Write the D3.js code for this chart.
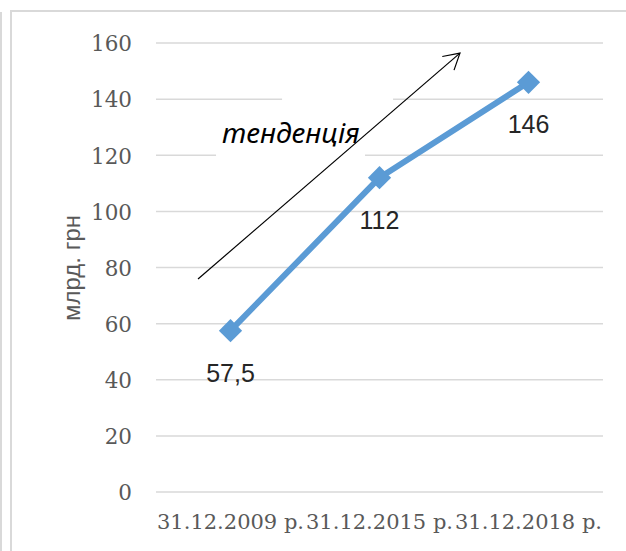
<!DOCTYPE html>
<html>
<head>
<meta charset="utf-8">
<script src="https://cdn.jsdelivr.net/npm/d3@7"></script>
<style>
  html, body { margin: 0; padding: 0; background: #fff; }
  svg { display: block; }
</style>
</head>
<body>
<svg id="chart" width="626" height="551"></svg>
<script>
// chart data
const categories = ["31.12.2009 р.", "31.12.2015 р.", "31.12.2018 р."];
const values = [57.5, 112, 146];
const valueLabels = ["57,5", "112", "146"];
const yTicks = [0, 20, 40, 60, 80, 100, 120, 140, 160];
const yTitle = "млрд. грн";
const trendText = "тенденція";

const width = 626;
const height = 551;
const svg = d3.select("#chart");

const plot = { left: 156, right: 603, top: 43, bottom: 492 };

const x = d3.scaleBand().domain(categories).range([plot.left, plot.right]);
const y = d3.scaleLinear().domain([0, 160]).range([plot.bottom, plot.top]);
// continuous scale across the categories, used for the annotation shapes
const xc = d3.scaleLinear().domain([0, categories.length]).range([plot.left, plot.right]);

// outer frames
svg.append("line")
    .attr("x1", 1).attr("x2", 1).attr("y1", 12).attr("y2", height)
    .attr("stroke", "#d9d9d9").attr("stroke-width", 2);
svg.append("rect")
    .attr("x", 11).attr("y", 11).attr("width", width + 20).attr("height", height + 20)
    .attr("fill", "#fff").attr("stroke", "#d9d9d9").attr("stroke-width", 2);

// gridlines
svg.append("g")
    .selectAll("line")
    .data(yTicks)
    .join("line")
    .attr("x1", plot.left).attr("x2", plot.right)
    .attr("y1", d => y(d)).attr("y2", d => y(d))
    .attr("stroke", "#d9d9d9").attr("stroke-width", 1.5);

// y axis labels
const yAxis = d3.axisLeft(y).tickValues(yTicks).tickSize(0).tickPadding(24);
svg.append("g")
    .attr("transform", `translate(${plot.left},0)`)
    .call(yAxis)
    .call(g => g.select(".domain").remove())
    .selectAll("text")
    .attr("font-family", "DejaVu Serif")
    .attr("font-size", 21.5)
    .attr("fill", "#595959")
    .attr("dy", "0.36em");

// x axis labels
const xAxis = d3.axisBottom(x).tickSize(0).tickPadding(22);
svg.append("g")
    .attr("transform", `translate(0,${plot.bottom})`)
    .call(xAxis)
    .call(g => g.select(".domain").remove())
    .selectAll("text")
    .attr("font-family", "DejaVu Serif")
    .attr("font-size", 21)
    .attr("fill", "#595959");

// y title
svg.append("text")
    .attr("transform", `translate(80,268) rotate(-90)`)
    .attr("text-anchor", "middle")
    .attr("font-family", "Liberation Sans")
    .attr("font-size", 24)
    .attr("fill", "#595959")
    .text(yTitle);

// white boxes of the annotation (they hide parts of the gridlines)
svg.append("rect")
    .attr("x", xc(0.403)).attr("y", y(138))
    .attr("width", xc(1.403) - xc(0.403)).attr("height", y(116.5) - y(138))
    .attr("fill", "#fff");
svg.append("rect")
    .attr("x", xc(0.846)).attr("y", y(142.5))
    .attr("width", xc(1.591) - xc(0.846)).attr("height", y(138) - y(142.5))
    .attr("fill", "#fff");

// trend text
svg.append("text")
    .attr("x", xc(0.443)).attr("y", y(124.4))
    .attr("font-family", "Noto Sans")
    .attr("font-style", "italic")
    .attr("font-size", 28)
    .attr("fill", "#000")
    .text(trendText);

// trend arrow
const a0 = [xc(0.282), y(75.9)];
const a1 = [xc(2.04), y(156.4)];
svg.append("line")
    .attr("x1", a0[0]).attr("y1", a0[1]).attr("x2", a1[0]).attr("y2", a1[1])
    .attr("stroke", "#000").attr("stroke-width", 1.2);
const ang = Math.atan2(a0[1] - a1[1], a0[0] - a1[0]);
const headLen = 18, headSpread = Math.PI / 6;
const headPts = [
    [a1[0] + headLen * Math.cos(ang + headSpread), a1[1] + headLen * Math.sin(ang + headSpread)],
    a1,
    [a1[0] + headLen * Math.cos(ang - headSpread), a1[1] + headLen * Math.sin(ang - headSpread)]
];
svg.append("path")
    .attr("d", d3.line()(headPts))
    .attr("fill", "none").attr("stroke", "#000").attr("stroke-width", 1.2);

// series line
const cx = (d, i) => x(categories[i]) + x.bandwidth() / 2;
const line = d3.line().x(cx).y(d => y(d));
svg.append("path")
    .datum(values)
    .attr("d", line)
    .attr("fill", "none")
    .attr("stroke", "#5b9bd5")
    .attr("stroke-width", 6)
    .attr("stroke-linejoin", "round");

svg.append("g")
    .selectAll("path")
    .data(values)
    .join("path")
    .attr("d", d3.symbol(d3.symbolSquare, 270))
    .attr("transform", (d, i) => `translate(${cx(d, i)},${y(d)}) rotate(45)`)
    .attr("fill", "#5b9bd5");

// data labels
svg.append("g")
    .selectAll("text")
    .data(values)
    .join("text")
    .attr("x", cx)
    .attr("y", d => y(d) + 51)
    .attr("text-anchor", "middle")
    .attr("font-family", "Liberation Sans")
    .attr("font-size", 25)
    .attr("fill", "#262626")
    .text((d, i) => valueLabels[i]);
</script>
</body>
</html>
